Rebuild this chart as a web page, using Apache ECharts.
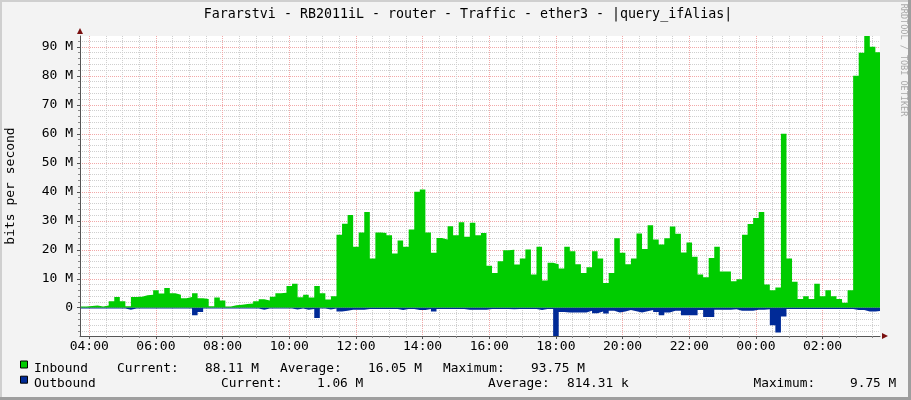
<!DOCTYPE html>
<html><head><meta charset="utf-8">
<script src="https://cdn.jsdelivr.net/npm/echarts@6/dist/echarts.min.js"></script>
<style>html,body{margin:0;padding:0;background:#F3F3F3}#c{width:911px;height:400px}</style>
</head><body><div id="c"></div>
<script>
// ---------- data ----------
const chartTitle = 'Fararstvi - RB2011iL - router - Traffic - ether3 - |query_ifAlias|';
const yAxisTitle = 'bits per second';
const watermark = 'RRDTOOL / TOBI OETIKER';
const seriesNames = ['Inbound', 'Outbound'];
const seriesColors = ['#00CC00', '#002A97'];
// 10-minute samples (Mbit/s) starting 03:45
const inboundM = [
  0.4,0.6,0.8,0.4,0.8,2.2,3.7,2.2,0.5,3.7,
  3.8,4.3,4.5,6.0,4.9,6.8,5.0,4.5,3.3,3.7,
  5.0,3.3,3.0,0.5,3.5,2.5,0.4,0.9,1.0,1.3,
  1.5,2.2,2.9,2.5,3.8,5.0,5.2,7.5,8.3,3.6,
  4.5,3.5,7.5,5.0,2.8,4.0,25.2,29,32,21,
  26,33,17,26,25.8,25,18.7,23.2,21,27,
  40,40.8,26,19,24.1,23.5,28.1,25,29.5,24.5,
  29.3,25,25.8,14.5,12,16,19.8,20,14.9,17,
  20.1,11.5,21,9.4,15.5,15,13.5,21,19.5,15,
  12,14,19.5,17,8.5,12,24,19,15,17,
  25.6,20.3,28.5,23.5,21.8,24,28,25.5,19.1,22.5,
  17.6,11.5,10.5,17.2,21,12.5,12.5,9.1,9.8,25.2,
  28.9,31,33,8,6,7,60,17,9,3,
  4,3,8.3,4,6,4,3,1.7,6,80,
  88,93.75,90,88.11
];
const outboundM = [
  0.3,0.3,0.3,0.3,0.3,0.3,0.3,0.3,0.7,0.3,
  0.3,0.3,0.3,0.3,0.3,0.3,0.3,0.3,0.3,0.3,
  2.6,1.5,0.3,0.3,0.3,0.3,0.3,0.3,0.3,0.3,
  0.3,0.3,0.7,0.3,0.3,0.3,0.3,0.3,0.6,0.3,
  0.7,0.4,3.5,0.3,0.6,0.3,1.3,1.0,0.7,0.7,
  0.7,0.4,0.4,0.4,0.4,0.4,0.4,0.8,0.4,0.4,
  0.8,0.8,0.4,1.3,0.4,0.4,0.4,0.4,0.4,0.7,
  0.7,0.7,0.7,0.4,0.4,0.4,0.4,0.5,0.4,0.4,
  0.4,0.4,0.8,0.4,0.4,9.75,1.5,1.6,1.6,1.6,
  1.6,1.0,1.9,1.3,2.0,1.0,1.6,1.3,0.8,1.2,
  1.6,1.2,0.8,1.5,2.6,1.6,1.0,1.0,2.6,2.6,
  2.6,0.8,3.2,3.2,0.7,0.7,0.7,0.5,1.0,1.0,
  1.0,0.7,0.7,0.5,6,8.5,3,0.4,0.4,0.4,
  0.4,0.4,0.4,0.4,0.4,0.4,0.4,0.4,0.4,0.8,
  0.8,1.3,1.3,1.06
];
const xTickLabels = ['04:00','06:00','08:00','10:00','12:00','14:00','16:00','18:00','20:00','22:00','00:00','02:00'];
const yTickValues = [0,10,20,30,40,50,60,70,80,90];
const yTickLabels = ['0','10 M','20 M','30 M','40 M','50 M','60 M','70 M','80 M','90 M'];
const inboundStats = ['Current:','88.11 M','Average:','16.05 M','Maximum:','93.75 M'];
const outboundStats = ['Current:','1.06 M','Average:','814.31 k','Maximum:','9.75 M'];

// ---------- build (x in minutes since 00:00 of day 1) ----------
const firstSample = 3*60+45;
const stepMin = 10;
const xMin = 3*60+43+1/3;
const xMax = xMin + 24*60;
const yMin = -9.75, yMax = 93.75;

function toData(arr, sign){
  const d = arr.map((v,i)=>[firstSample+i*stepMin, sign*v]);
  d.push([firstSample+arr.length*stepMin, sign*arr[arr.length-1]]);
  return d;
}
const xTickValues = xTickLabels.map(s=>{
  const h = +s.slice(0,2), m = +s.slice(3);
  return (h<3?24*60:0) + h*60 + m;
});
const xMinor = [];
for(let t=xTickValues[0]; t<=xMax; t+=30){
  if(xTickValues.indexOf(t)<0) xMinor.push(t);
}
const yMinor = [];
for(let v=-8; v<=92; v+=2){ if(v%10!==0) yMinor.push(v); }

const FONT = 'DejaVu Sans Mono';
const redGrid = {show:true, lineStyle:{color:'#F2A8A8', width:1, type:[1,1]}};
const grayGrid = {show:true, lineStyle:{color:'#CFCFCF', width:1, type:[1,1]}};

const chart = echarts.init(document.getElementById('c'), null, {renderer:'canvas'});

const legendG = [];
function legendRow(idx, xs, y, stats){
  legendG.push({type:'rect', shape:{x:20.5,y:y-7.5,width:7,height:7},
    style:{fill:seriesColors[idx], stroke:'#000', lineWidth:1}});
  legendG.push({type:'text', x:34, y:y, style:{text:seriesNames[idx], font:'12.8px '+FONT, fill:'#000', verticalAlign:'middle'}});
  stats.forEach((s,i)=>legendG.push({type:'text', x:xs[i], y:y,
    style:{text:s, font:'12.8px '+FONT, fill:'#000', verticalAlign:'middle'}}));
}
legendRow(0,[117,205,280,368,443,531],368.5,inboundStats);
legendRow(1,[221,317,488,567,753.5,850],383.7,outboundStats);

const xLabelFmt = (v)=>{let b=0,bd=Infinity; xTickValues.forEach((t,i)=>{const d=Math.abs(t-v); if(d<bd){bd=d;b=i;}}); return xTickLabels[b];};

chart.setOption({
  animation:false,
  backgroundColor:'#F3F3F3',
  grid:{left:80, top:36, width:800, height:300, show:true, backgroundColor:'#FFFFFF', borderWidth:0, outerBoundsMode:'none'},
  xAxis:[
    {type:'value', min:xMin, max:xMax, position:'bottom',
     axisLine:{show:true, onZero:false, lineStyle:{color:'#555', width:1}},
     axisTick:{show:true, length:3, customValues:xTickValues, lineStyle:{color:'#555'}},
     axisLabel:{show:true, customValues:xTickValues, margin:4, color:'#000', fontFamily:FONT, fontSize:13, formatter:xLabelFmt},
     splitLine:redGrid},
    {type:'value', min:xMin, max:xMax, position:'bottom',
     axisLine:{show:false, onZero:false}, axisLabel:{show:false},
     axisTick:{show:true, length:2, customValues:xMinor, lineStyle:{color:'#888'}},
     splitLine:grayGrid},
    {type:'value', min:xMin, max:xMax, position:'bottom',
     axisLine:{show:true, onZero:false, symbol:['none','triangle'], symbolSize:[6,6], symbolOffset:[0,5], lineStyle:{color:'#7A1010', width:0}},
     axisTick:{show:false}, axisLabel:{show:false}, splitLine:{show:false}}
  ],
  yAxis:[
    {type:'value', min:yMin, max:yMax, position:'left',
     axisLine:{show:true, onZero:false, lineStyle:{color:'#555', width:1}},
     axisTick:{show:true, length:3, customValues:yTickValues, lineStyle:{color:'#555'}},
     axisLabel:{show:true, customValues:yTickValues, margin:7, color:'#000', fontFamily:FONT, fontSize:13,
       formatter:(v)=>{const i=yTickValues.indexOf(Math.round(v)); return i>=0?yTickLabels[i]:'';}},
     splitLine:redGrid},
    {type:'value', min:yMin, max:yMax, position:'left',
     axisLine:{show:false, onZero:false}, axisLabel:{show:false},
     axisTick:{show:true, length:2, customValues:yMinor, lineStyle:{color:'#888'}},
     splitLine:grayGrid},
    {type:'value', min:yMin, max:yMax, position:'left',
     axisLine:{show:true, onZero:false, symbol:['none','triangle'], symbolSize:[6,6], symbolOffset:[0,5], lineStyle:{color:'#7A1010', width:0}},
     axisTick:{show:false}, axisLabel:{show:false}, splitLine:{show:false}}
  ],
  series:[
    {name:seriesNames[0], type:'line', step:'end', symbol:'none', data:toData(inboundM,1),
     lineStyle:{width:0}, areaStyle:{color:seriesColors[0], opacity:1}, z:3},
    {name:seriesNames[1], type:'line', step:'end', symbol:'none', data:toData(outboundM,-1),
     lineStyle:{width:0}, areaStyle:{color:seriesColors[1], opacity:1}, z:3}
  ],
  graphic:[
    {type:'rect', shape:{x:0,y:0,width:911,height:2}, style:{fill:'#CFCFCF'}},
    {type:'rect', shape:{x:0,y:0,width:2,height:400}, style:{fill:'#CFCFCF'}},
    {type:'rect', shape:{x:908,y:0,width:3,height:400}, style:{fill:'#9E9E9E'}},
    {type:'rect', shape:{x:0,y:397,width:911,height:3}, style:{fill:'#9E9E9E'}},
    {type:'text', x:468, y:14.3, style:{text:chartTitle, font:'13.3px '+FONT, fill:'#000', align:'center', verticalAlign:'middle'}},
    {type:'text', x:11, y:186, rotation:Math.PI/2, style:{text:yAxisTitle, font:'13px '+FONT, fill:'#000', align:'center', verticalAlign:'middle'}},
    {type:'text', x:903, y:60, rotation:-Math.PI/2, style:{text:watermark, font:'8.5px '+FONT, fill:'#A8A8A8', align:'center', verticalAlign:'middle'}}
  ].concat(legendG)
});
</script></body></html>
